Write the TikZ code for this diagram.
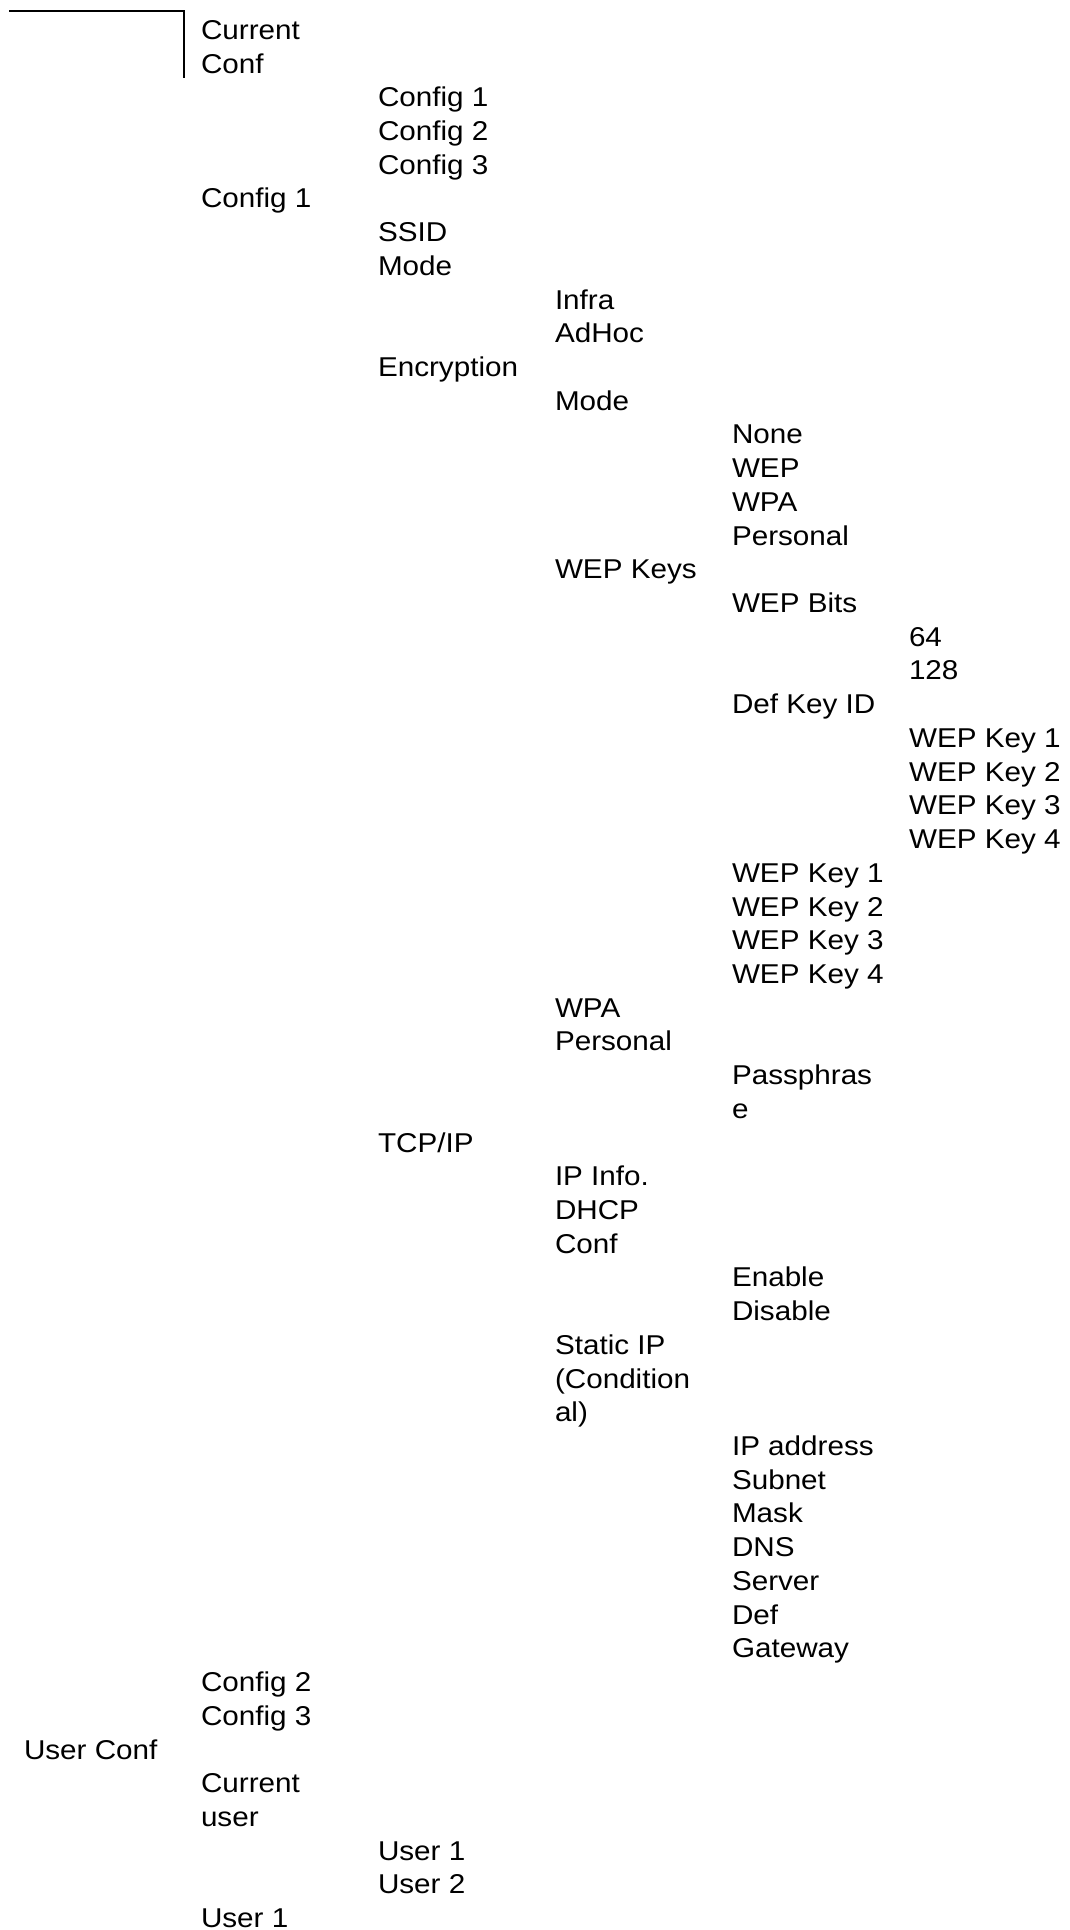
\documentclass[tikz,border=0pt]{standalone}
\usepackage{fontspec}
\setmainfont{Liberation Sans}[FakeStretch=1.09]
\newcommand{\mlines}[1]{\begin{tabular}[t]{@{}l@{}}#1\end{tabular}}
\begin{document}
\begin{tikzpicture}[x=0.75pt,y=-0.75pt,
  lbl/.style={anchor=base west,inner sep=0pt,outer sep=0pt,
    font=\fontsize{20.4pt}{25.29pt}\selectfont},
  rule/.style={line width=1.5pt,black}]
\useasboundingbox (0,0) rectangle (1070,1930);
% top-left bracket line
\coordinate (ltop) at (9,11);
\coordinate (lcorner) at (184,11);
\coordinate (lbottom) at (184,78);
\draw[rule] (ltop) -- (lcorner) -- (lbottom);
\begin{scope}[y=-25.29pt,yshift=-29.475pt]
% columns: 24, 201, 378, 555, 732, 909 (px); rows in lines
\node[lbl] (curconf) at (201,0) {\mlines{Current\\Conf}};
\node[lbl] (ccfg1) at (378,2) {Config 1};
\node[lbl] (ccfg2) at (378,3) {Config 2};
\node[lbl] (ccfg3) at (378,4) {Config 3};
\node[lbl] (cfg1) at (201,5) {Config 1};
\node[lbl] (ssid) at (378,6) {SSID};
\node[lbl] (mode) at (378,7) {Mode};
\node[lbl] (infra) at (555,8) {Infra};
\node[lbl] (adhoc) at (555,9) {AdHoc};
\node[lbl] (encr) at (378,10) {Encryption};
\node[lbl] (emode) at (555,11) {Mode};
\node[lbl] (none) at (732,12) {None};
\node[lbl] (wep) at (732,13) {WEP};
\node[lbl] (wpap) at (732,14) {\mlines{WPA\\Personal}};
\node[lbl] (wepkeys) at (555,16) {WEP Keys};
\node[lbl] (wepbits) at (732,17) {WEP Bits};
\node[lbl] (b64) at (909,18) {64};
\node[lbl] (b128) at (909,19) {128};
\node[lbl] (defkey) at (732,20) {Def Key ID};
\node[lbl] (dk1) at (909,21) {WEP Key 1};
\node[lbl] (dk2) at (909,22) {WEP Key 2};
\node[lbl] (dk3) at (909,23) {WEP Key 3};
\node[lbl] (dk4) at (909,24) {WEP Key 4};
\node[lbl] (wk1) at (732,25) {WEP Key 1};
\node[lbl] (wk2) at (732,26) {WEP Key 2};
\node[lbl] (wk3) at (732,27) {WEP Key 3};
\node[lbl] (wk4) at (732,28) {WEP Key 4};
\node[lbl] (wpapers) at (555,29) {\mlines{WPA\\Personal}};
\node[lbl] (pass) at (732,31) {\mlines{Passphras\\e}};
\node[lbl] (tcpip) at (378,33) {TCP/IP};
\node[lbl] (ipinfo) at (555,34) {IP Info.};
\node[lbl] (dhcp) at (555,35) {\mlines{DHCP\\Conf}};
\node[lbl] (enable) at (732,37) {Enable};
\node[lbl] (disable) at (732,38) {Disable};
\node[lbl] (static) at (555,39) {\mlines{Static IP\\(Condition\\al)}};
\node[lbl] (ipaddr) at (732,42) {IP address};
\node[lbl] (subnet) at (732,43) {\mlines{Subnet\\Mask}};
\node[lbl] (dns) at (732,45) {\mlines{DNS\\Server}};
\node[lbl] (gw) at (732,47) {\mlines{Def\\Gateway}};
\node[lbl] (cfg2) at (201,49) {Config 2};
\node[lbl] (cfg3) at (201,50) {Config 3};
\node[lbl] (userconf) at (24,51) {User Conf};
\node[lbl] (curuser) at (201,52) {\mlines{Current\\user}};
\node[lbl] (cu1) at (378,54) {User 1};
\node[lbl] (cu2) at (378,55) {User 2};
\node[lbl] (user1) at (201,56) {User 1};
\end{scope}
\end{tikzpicture}
\end{document}
